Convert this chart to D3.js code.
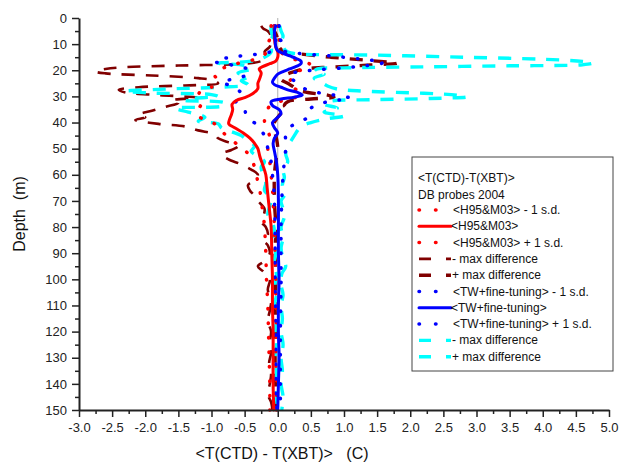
<!DOCTYPE html>
<html><head><meta charset="utf-8">
<script src="https://cdn.jsdelivr.net/npm/d3@7"></script>
<style>
body{margin:0;background:#fff;}
svg{display:block;font-family:"Liberation Sans",Arial,sans-serif;}
</style></head>
<body><svg id="chart" width="620" height="465"></svg>
<script>
// ---------------- DATA (depth in m, value in C) ----------------
const xTicks = [-3,-2.5,-2,-1.5,-1,-0.5,0,0.5,1,1.5,2,2.5,3,3.5,4,4.5,5];
const yTicks = [0,10,20,30,40,50,60,70,80,90,100,110,120,130,140,150];

// <H95&M03> - 1 s.d.
const redLoDepth = [3,5,8,10,12,14,15.5,17,18.5,20,22,24,26,27.5,30,32.5,35,37,39,40.5,43,45,48,51,54,57,60,63,66,70,75,80,90,100,110,120,130,140,150];
const redLoVal   = [-0.1,-0.1,-0.12,-0.15,-0.15,-0.2,-0.3,-0.55,-0.75,-0.9,-0.95,-0.9,-0.95,-1.15,-1.2,-1.15,-1.2,-1.22,-1.1,-0.95,-0.85,-0.78,-0.63,-0.48,-0.4,-0.35,-0.32,-0.3,-0.27,-0.25,-0.22,-0.2,-0.18,-0.17,-0.15,-0.14,-0.13,-0.12,-0.12];
// <H95&M03>
const redMeanDepth = [3,5,8,11,13,15,16.5,17.5,18.5,19.5,21,23,25,27,29,30.5,31.5,33,35,37,39,40.5,42,44,46,48,50,53,56,60,65,70,80,90,100,110,120,130,140,150];
const redMeanVal   = [-0.05,-0.05,-0.05,-0.03,0,0,-0.03,-0.12,-0.22,-0.28,-0.25,-0.27,-0.3,-0.3,-0.38,-0.5,-0.62,-0.69,-0.68,-0.7,-0.73,-0.74,-0.65,-0.52,-0.42,-0.35,-0.3,-0.27,-0.23,-0.18,-0.16,-0.14,-0.1,-0.09,-0.08,-0.08,-0.07,-0.07,-0.07,-0.06];
// <H95&M03> + 1 s.d.
const redHiDepth = [3,5,7,9,11,13,15,16.5,18,19.5,21,23,25,27,28.5,30,31.5,33,35,37,39,41,43,46,50,55,60,65,70,80,90,100,110,120,130,140,150];
const redHiVal   = [0,0.02,0,0.03,0.02,0.05,0.15,0.35,0.5,0.4,0.25,0.22,0.15,0.25,0.35,0.3,0.1,-0.1,-0.15,-0.15,-0.2,-0.18,-0.15,-0.12,-0.15,-0.12,-0.1,-0.08,-0.07,-0.05,-0.04,-0.03,-0.03,-0.02,-0.03,-0.02,-0.02];
// H95&M03 - max difference
const marLoDepth = [3,4,5,7,9,11,13,15,16.5,17.5,18.2,18.8,19.5,20.5,21.2,22,23,24,25,25.8,26.5,27.5,28.5,29.5,30.5,31.5,32.5,34,35.5,37,38,39,40.5,41.5,43,44.5,46,47.5,49,50.5,52,54,56,58,60,62,64,66,68,70,73,76,78,80,83,85,87,90,93,95,97,100,104,108,112,116,120,124,128,132,136,140,144,147,150];
const marLoVal   = [-0.25,-0.22,-0.15,-0.1,-0.1,-0.12,-0.2,-0.15,-0.25,-0.5,-1.5,-2.3,-2.6,-2.75,-2.6,-1.9,-1.2,-0.95,-0.9,-1.4,-2.1,-2.4,-2.3,-1.8,-1.2,-1.6,-1.5,-1.7,-1.9,-2.1,-2.0,-2.15,-1.8,-1.4,-1.2,-0.95,-0.9,-0.75,-0.6,-0.7,-0.85,-0.75,-0.55,-0.4,-0.3,-0.35,-0.45,-0.42,-0.35,-0.3,-0.2,-0.22,-0.25,-0.18,-0.15,-0.22,-0.15,-0.12,-0.2,-0.3,-0.22,-0.12,-0.15,-0.1,-0.12,-0.15,-0.1,-0.12,-0.1,-0.13,-0.1,-0.12,-0.15,-0.1,-0.08];
// H95&M03 + max difference
const marHiDepth = [3,5,8,11,13,13.8,15,16.3,17.3,18,18.8,19.5,20.5,22,23.5,25,26.5,27.5,28.5,29.5,30.3,31,32,33.5,35,36.5,38,40,43,46,50,55,60,70,80,90,100,110,120,130,140,150];
const marHiVal   = [-0.1,-0.05,0,0.02,0.1,0.35,0.8,1.4,1.8,1.4,0.8,0.4,0.25,0.1,0.05,0.15,0.25,0.3,0.45,0.75,0.85,0.5,0.15,0.1,0.15,0.05,0,-0.05,-0.05,-0.02,0,-0.03,-0.05,-0.05,-0.03,-0.04,-0.03,-0.04,-0.03,-0.04,-0.03,-0.03];
// <TW+fine-tuning> - 1 s.d.
const blueLoDepth = [3,5,7,9,11,12.5,13.4,14.2,15,16,16.7,17.5,18.5,20,21.5,23,24.5,26,27.5,29,31,33,35,37,39,41,43,46,50,55,60,65,70,80,100,120,150];
const blueLoVal   = [-0.05,-0.04,-0.05,-0.03,-0.05,-0.08,-0.18,-0.45,-0.7,-0.9,-0.95,-0.8,-0.6,-0.42,-0.45,-0.6,-0.85,-0.7,-0.6,-0.55,-0.65,-0.6,-0.5,-0.48,-0.42,-0.3,-0.25,-0.18,-0.15,-0.1,-0.08,-0.06,-0.05,-0.04,-0.04,-0.03,-0.03];
// <TW+fine-tuning>
const blueMeanDepth = [3,5,8,11,12.5,13.5,14.5,15.5,16.5,17.5,18.5,19.5,20.5,21.5,23,24.5,25.5,26.5,27.5,28.5,29.5,30.3,31,32,33.5,35,36.5,38,40,42,44,46,48,51,55,60,70,80,90,100,110,120,130,140,150];
const blueMeanVal   = [-0.03,-0.05,-0.04,-0.03,0,0.08,0.18,0.28,0.35,0.35,0.28,0.18,0.08,0,-0.05,-0.08,-0.05,0.05,0.15,0.3,0.37,0.25,0.05,-0.1,-0.08,0.02,0.05,0,-0.08,-0.05,0,-0.05,-0.07,-0.05,-0.02,0,0.01,0.01,0.01,0.02,0.01,0.01,0.02,0.01,0];
// <TW+fine-tuning> + 1 s.d.
const blueHiDepth = [3,5,7,9,11,12.5,13.5,14.5,15.3,16,16.8,17.5,18.3,19,19.7,20.5,21.5,23,25,27,28.5,29.5,30.7,31.5,33,34.5,36,38,40,41.5,44,47,50,55,60,65,70,80,100,120,150];
const blueHiVal   = [0.02,0.03,0.02,0.05,0.03,0.08,0.3,0.8,1.1,1.35,1.6,1.55,1.3,1.05,0.65,0.35,0.17,0.2,0.3,0.4,0.6,0.85,1.1,0.9,0.6,0.5,0.45,0.45,0.3,0.2,0.12,0.12,0.12,0.1,0.08,0.07,0.06,0.05,0.05,0.04,0.04];
// TW - max difference
const cyanLoDepth = [3,5,7,9,11,13,15,16.5,17.3,18.2,19.5,21,22.5,24,25.5,26.5,27.2,28,28.7,29.3,30,30.8,31.5,32.5,33.5,34.5,36,38,39.5,40.5,42,43.5,45,47,49,51,53,55,57,60,63,66,69,72,75,78,82,86,90,94,98,102,106,110,115,120,125,130,135,140,145,150];
const cyanLoVal   = [-0.1,-0.1,-0.08,-0.12,-0.1,-0.1,-0.2,-0.4,-0.9,-0.5,-0.4,-0.6,-0.45,-0.55,-0.45,-0.9,-1.7,-2.3,-1.9,-1.0,-0.9,-1.3,-1.4,-0.8,-0.8,-1.55,-1.35,-1.1,-1.2,-0.9,-0.85,-0.7,-0.55,-0.45,-0.35,-0.4,-0.3,-0.2,-0.25,-0.22,-0.18,-0.2,-0.1,-0.12,-0.15,-0.08,-0.05,-0.08,-0.03,-0.06,-0.02,-0.04,-0.02,-0.05,-0.02,-0.04,-0.02,-0.04,-0.02,-0.03,-0.02,0];
// TW + max difference
const cyanHiDepth = [3,5,7,9,11,12.5,13.4,14.2,15,15.8,16.6,17.3,17.9,18.3,18.7,19.1,19.5,20.5,21.5,23,24.5,26,27.2,28,28.8,29.5,30.2,30.8,31.3,31.8,33,34.5,36,37.5,38.5,40,41.5,43,45,47,49,52,55,58,61,64,67,70,73,76,80,84,88,92,95,98,102,106,110,115,120,125,130,135,140,145,150];
const cyanHiVal   = [0.03,0.05,0.08,0.05,0.08,0.12,0.2,1.5,2.8,4.0,4.6,4.75,4.6,3.5,2.2,1.0,0.6,0.55,0.7,0.55,0.65,0.75,0.9,1.3,2.2,2.7,2.85,2.3,1.4,0.8,0.7,0.9,0.7,1.0,0.75,0.5,0.35,0.3,0.25,0.2,0.15,0.12,0.15,0.08,0.1,0.07,0.12,0.05,0.08,0.1,0.05,0.08,0.05,0.08,0.12,0.06,0.05,0.08,0.05,0.07,0.05,0.08,0.05,0.07,0.05,0.08,0.06];

const legendTitle = ["<T(CTD)-T(XBT)>", "DB probes 2004"];
const legendLabels = ["<H95&M03> - 1 s.d.", "<H95&M03>", "<H95&M03> + 1 s.d.", "- max difference", "+ max difference",
  "<TW+fine-tuning> - 1 s.d.", "<TW+fine-tuning>", "<TW+fine-tuning> + 1 s.d.", "- max difference", "+ max difference"];

// ---------------- STYLES ----------------
const RED = "#ff0000", MAR = "#800000", BLUE = "#0000ff", CYAN = "#00ffff";
const dotStyle = {dash: "0.5 14", width: 3.5, cap: "round"};
const series = [
  {d: marLoDepth,  v: marLoVal,  color: MAR,  dash: "13 11", width: 2.6, cap: "butt", legend: 3},
  {d: marHiDepth,  v: marHiVal,  color: MAR,  dash: "13 11", width: 3.4, cap: "butt", legend: 4},
  {d: cyanLoDepth, v: cyanLoVal, color: CYAN, dash: "13 11", width: 3.4, cap: "butt", legend: 8},
  {d: cyanHiDepth, v: cyanHiVal, color: CYAN, dash: "13 11", width: 3.4, cap: "butt", legend: 9},
  {d: redLoDepth,  v: redLoVal,  color: RED,  ...dotStyle, legend: 0},
  {d: redHiDepth,  v: redHiVal,  color: RED,  ...dotStyle, legend: 2},
  {d: blueLoDepth, v: blueLoVal, color: BLUE, ...dotStyle, legend: 5},
  {d: blueHiDepth, v: blueHiVal, color: BLUE, ...dotStyle, legend: 7},
  {d: redMeanDepth,  v: redMeanVal,  color: RED,  dash: null, width: 3, cap: "round", legend: 1},
  {d: blueMeanDepth, v: blueMeanVal, color: BLUE, dash: null, width: 3, cap: "round", legend: 6}
];

// ---------------- CHART ----------------
const svg = d3.select("#chart");
const x = d3.scaleLinear().domain([-3, 5]).range([79, 609]);
const y = d3.scaleLinear().domain([0, 150]).range([18, 410]);

// zero reference line
svg.append("line").attr("x1", x(0)).attr("x2", x(0)).attr("y1", y(0)).attr("y2", y(150))
  .attr("stroke", "#b0b0b0").attr("stroke-width", 1);

const line = d3.line().x(p => x(p[1])).y(p => y(p[0])).curve(d3.curveCatmullRom.alpha(0.5));
series.forEach(s => {
  const pts = s.d.map((dd, i) => [dd, s.v[i]]);
  svg.append("path").datum(pts).attr("d", line)
    .attr("fill", "none").attr("stroke", s.color).attr("stroke-width", s.width)
    .attr("stroke-linecap", s.cap).attr("stroke-linejoin", "round")
    .attr("stroke-dasharray", s.dash);
});

// axes
const axisColor = "#222";
const minorY = d3.range(5, 150, 10);
const minorX = d3.range(-2.75, 5, 0.5);
svg.append("g").attr("transform", `translate(${x(-3)},0)`)
  .call(d3.axisLeft(y).tickValues(minorY).tickSize(4).tickFormat(""))
  .call(g => g.select(".domain").remove());
svg.append("g").attr("transform", `translate(0,${y(150)})`)
  .call(d3.axisBottom(x).tickValues(minorX).tickSize(4).tickFormat(""))
  .call(g => g.select(".domain").remove());
const ya = svg.append("g").attr("transform", `translate(${x(-3)},0)`)
  .call(d3.axisLeft(y).tickValues(yTicks).tickSize(7).tickPadding(5).tickSizeOuter(0).tickFormat(d3.format("d")));
const xa = svg.append("g").attr("transform", `translate(0,${y(150)})`)
  .call(d3.axisBottom(x).tickValues(xTicks).tickSize(7).tickPadding(6).tickSizeOuter(0).tickFormat(d => d.toFixed(1)));
svg.selectAll(".tick line").attr("stroke", axisColor).attr("stroke-width", 1.5);
[ya, xa].forEach(a => {
  a.select(".domain").attr("stroke", axisColor).attr("stroke-width", 2);
  a.selectAll("text").attr("font-size", 13).attr("fill", "#222").attr("font-family", "'Liberation Sans', Arial, sans-serif");
});
// keep the last x label inside the picture
xa.selectAll(".tick text").filter(d => d === 5).attr("text-anchor", "end").attr("dx", "0.7em");

// axis titles
svg.append("text").attr("x", 282).attr("y", 459).attr("text-anchor", "middle")
  .attr("font-size", 16).attr("fill", "#111").attr("xml:space", "preserve")
  .text("<T(CTD) - T(XBT)>   (C)");
svg.append("text").attr("transform", `translate(25,${y(75)}) rotate(-90)`).attr("text-anchor", "middle")
  .attr("font-size", 16).attr("fill", "#111").attr("xml:space", "preserve")
  .text("Depth  (m)");

// legend
const lg = svg.append("g");
lg.append("rect").attr("x", 412).attr("y", 157).attr("width", 201).attr("height", 214)
  .attr("fill", "#fff").attr("stroke", "#444").attr("stroke-width", 1);
legendTitle.forEach((t, i) => lg.append("text").attr("x", 418).attr("y", 182 + i * 16.5)
  .attr("font-size", 12).attr("fill", "#111").text(t));
const legendOrder = series.slice().sort((a, b) => a.legend - b.legend);
legendOrder.forEach((s, i) => {
  const yy = 210 + i * 16.3;
  const isDot = s.dash === dotStyle.dash;
  const isDash = s.dash && !isDot;
  lg.append("line").attr("x1", 419).attr("x2", isDot ? 437 : 451).attr("y1", yy).attr("y2", yy)
    .attr("stroke", s.color).attr("stroke-width", s.width).attr("stroke-linecap", s.cap)
    .attr("stroke-dasharray", isDot ? "0.5 16" : (isDash ? "12 15" : null));
  lg.append("text").attr("x", isDot ? 453 : (isDash ? 452 : 451)).attr("y", yy + 4)
    .attr("font-size", 12).attr("fill", "#111").text(legendLabels[s.legend]);
});
</script>
</body></html>
